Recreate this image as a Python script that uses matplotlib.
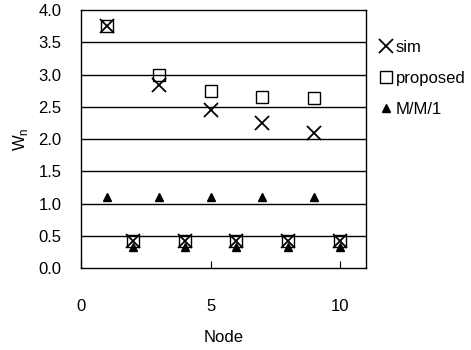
import matplotlib.pyplot as plt

plt.rcParams['font.family'] = ['Liberation Sans', 'DejaVu Sans']

# values
node = [1, 2, 3, 4, 5, 6, 7, 8, 9, 10]
sim = [3.75, 0.42, 2.84, 0.42, 2.45, 0.42, 2.25, 0.42, 2.10, 0.42]
proposed = [3.76, 0.42, 2.99, 0.42, 2.75, 0.42, 2.66, 0.42, 2.63, 0.42]
mm1 = [1.10, 0.33, 1.10, 0.33, 1.10, 0.33, 1.10, 0.33, 1.10, 0.33]

fig = plt.figure(figsize=(4.71, 3.5), dpi=100)
ax = fig.add_axes([0.172, 0.234, 0.605, 0.737])

# horizontal grid lines
for yy in [0.5, 1.0, 1.5, 2.0, 2.5, 3.0, 3.5]:
    ax.axhline(yy, color='black', linewidth=1.0, zorder=1)

ax.plot(node, sim, 'x', color='black', markersize=10, markeredgewidth=1.3,
        linestyle='none', label='sim', zorder=3)
ax.plot(node, proposed, 's', markerfacecolor='none', markeredgecolor='black',
        markersize=9, markeredgewidth=1.0, linestyle='none', label='proposed', zorder=3)
ax.plot(node, mm1, '^', color='black', markersize=6, linestyle='none',
        label='M/M/1', zorder=2)

ax.set_xlim(0, 11)
ax.set_ylim(0, 4.0)
ax.set_xticks([0, 5, 10])
ax.set_yticks([0.0, 0.5, 1.0, 1.5, 2.0, 2.5, 3.0, 3.5, 4.0])
ax.set_yticklabels(['0.0', '0.5', '1.0', '1.5', '2.0', '2.5', '3.0', '3.5', '4.0'])
ax.tick_params(axis='x', direction='in', length=5, pad=22, labelsize=12)
ax.tick_params(axis='y', length=0, pad=14, labelsize=12)
for s in ax.spines.values():
    s.set_linewidth(1.0)

ax.set_xlabel('Node', fontsize=12, labelpad=12)
ax.set_ylabel(r'W$_\mathregular{n}$', fontsize=12, labelpad=6)

ax.legend(loc='upper left', bbox_to_anchor=(1.0, 0.93), frameon=False,
          fontsize=12, handletextpad=0.1, labelspacing=0.95, handlelength=1.0,
          borderaxespad=0.3)

fig.savefig('out.png', dpi=100)
